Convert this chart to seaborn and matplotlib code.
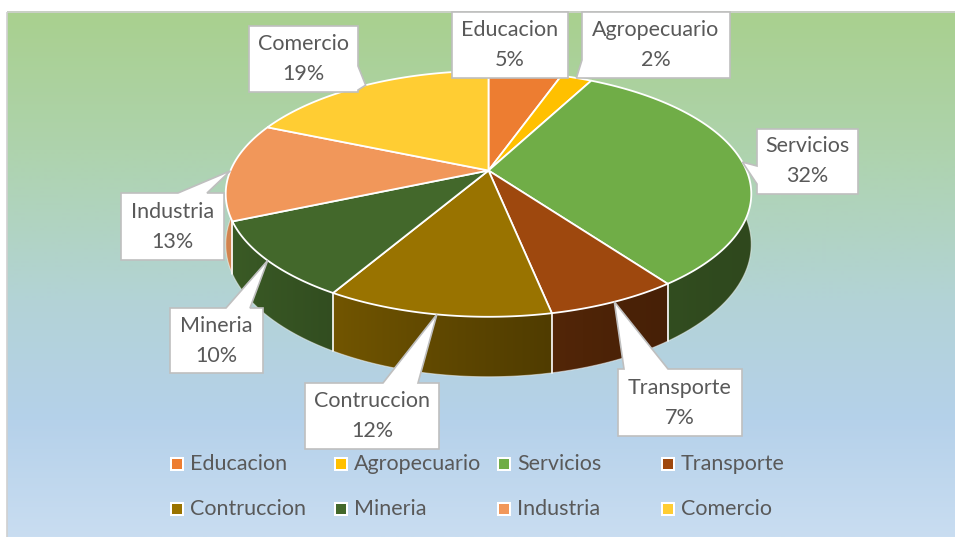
import numpy as np
import matplotlib
matplotlib.use("Agg")
import matplotlib.pyplot as plt
from matplotlib.patches import Polygon, Rectangle
from matplotlib.colors import to_rgb
import seaborn as sns

# --- chart data (shares; labels show them rounded) ---
categories = ["Educacion", "Agropecuario", "Servicios", "Transporte",
              "Contruccion", "Mineria", "Industria", "Comercio"]
shares = [5.4, 2.3, 32.3, 6.8, 11.6, 10.1, 12.9, 18.6]
slice_colors = ["#ED7D31", "#FFC000", "#70AD47", "#9E480E",
                "#997300", "#43682B", "#F1975A", "#FFCD33"]

# --- layout (pixels): label box and the side its pointer leaves from ---
label_layout = {
    "Educacion":    ((452, 12, 568, 78), None, None),
    "Agropecuario": ((582, 12, 730, 78), "left", (60, 78)),
    "Servicios":    ((757, 129, 858, 194), "left", (166, 184)),
    "Transporte":   ((618, 369, 742, 436), "top", (624, 668)),
    "Contruccion":  ((305, 383, 439, 449), "top", (383, 418)),
    "Mineria":      ((170, 308, 263, 373), "top", (226, 250)),
    "Industria":    ((121, 193, 224, 260), "top", (178, 207)),
    "Comercio":     ((249, 26, 358, 92), "right", (66, 90)),
}

W, H = 955, 537
CX, CY = 488.5, 170.5     # apex of the pie
RX, RY = 258.0, 118.5
PERSP = 0.19              # perspective strength
DEPTH = 48.6
TEXT = "#595959"
FS = 15.5

sns.set_theme(style="white")
plt.rcParams["font.family"] = ["Lato", "DejaVu Sans"]
palette = sns.color_palette(slice_colors)


def project(t_deg, drop=0.0):
    t = np.radians(t_deg)
    u, v = np.cos(t), np.sin(t)
    w = 1 + PERSP * v
    return CX + RX * u / w, CY - RY * v / w + drop / w


def shade(x):
    xn = np.clip((x - (CX - RX)) / (2 * RX), 0, 1)
    return 0.42 + 0.45 * (1 - xn) ** 1.5


fig = plt.figure(figsize=(W / 100, H / 100), dpi=100)
ax = fig.add_axes([0, 0, 1, 1])
ax.set_xlim(0, W)
ax.set_ylim(H, 0)
ax.axis("off")

# background gradient of the chart area
stops_y = [11, 150, 300, 420, 537]
stops_c = ["#a9d08e", "#aed3ad", "#b3d3d6", "#b5d1ea", "#c9ddf1"]
ys = np.arange(11, 538)
grad = np.zeros((len(ys), 1, 3))
for k in range(3):
    grad[:, 0, k] = np.interp(ys, stops_y, [to_rgb(c)[k] for c in stops_c])
ax.imshow(grad, extent=(7, W, H, 11), aspect="auto", zorder=0, interpolation="bilinear")
ax.add_patch(Rectangle((6.5, 11.5), 960, 540, fill=False, edgecolor="#d0d0d0", lw=1.2, zorder=1))

# slice angle bounds, clockwise from 12 o'clock
bounds = 90 - 360 * np.concatenate([[0], np.cumsum(shares)]) / sum(shares)

# side walls: only the front part (-192..12 deg) can be seen
xs = np.arange(int(CX - RX) - 10, int(CX + RX) + 11)
for i, col in enumerate(palette):
    a0, a1 = min(bounds[i], 12), max(bounds[i + 1], -192)
    if a0 <= a1:
        continue
    ts = np.linspace(a0, a1, 120)
    top = [project(t) for t in ts]
    bot = [project(t, DEPTH) for t in ts[::-1]]
    wall = Polygon(top + bot, closed=True, facecolor="none", edgecolor="none", zorder=2)
    ax.add_patch(wall)
    img = np.array(col)[None, None, :] * shade(xs)[None, :, None]
    im = ax.imshow(img, extent=(xs[0], xs[-1], 420, 150), aspect="auto",
                   zorder=2, interpolation="bilinear")
    im.set_clip_path(wall)

# white seams on the visible side walls
for b in bounds:
    if np.sin(np.radians(b)) < -0.05:
        p, q = project(b), project(b, DEPTH)
        ax.plot([p[0], q[0]], [p[1], q[1]], color="white", lw=1.2, zorder=3)
front = np.linspace(-180, 0, 200)
bx, by = zip(*[project(t, DEPTH) for t in front])
ax.plot(bx, by, color="white", lw=0.8, alpha=0.5, zorder=3)

# top faces
for i, col in enumerate(palette):
    ts = np.linspace(bounds[i], bounds[i + 1], max(3, int(abs(bounds[i] - bounds[i + 1]) * 2)))
    pts = [(CX, CY)] + [project(t) for t in ts]
    ax.add_patch(Polygon(pts, closed=True, facecolor=col, edgecolor="white", lw=1.3, zorder=4))

# data label callouts
total = sum(shares)
for i, name in enumerate(categories):
    (x0, y0, x1, y1), side, base = label_layout[name]
    tip = project((bounds[i] + bounds[i + 1]) / 2)
    if side == "top":
        pts = [(x0, y0), (base[0], y0), tip, (base[1], y0), (x1, y0), (x1, y1), (x0, y1)]
    elif side == "left":
        pts = [(x0, y0), (x1, y0), (x1, y1), (x0, y1), (x0, base[1]), tip, (x0, base[0])]
    elif side == "right":
        pts = [(x0, y0), (x1, y0), (x1, base[0]), tip, (x1, base[1]), (x1, y1), (x0, y1)]
    else:
        pts = [(x0, y0), (x1, y0), (x1, y1), (x0, y1)]
    ax.add_patch(Polygon(pts, closed=True, facecolor="white", edgecolor="#bfbfbf", lw=1.2, zorder=6))
    xm, ym = (x0 + x1) / 2, (y0 + y1) / 2
    pct = int(np.floor(shares[i] / total * 100 + 0.5))
    ax.text(xm, ym - 15, name, ha="center", va="center", fontsize=FS, color=TEXT, zorder=7)
    ax.text(xm, ym + 15, f"{pct}%", ha="center", va="center", fontsize=FS, color=TEXT, zorder=7)

# legend, 4 columns, row-major
for i, name in enumerate(categories):
    lx = 177 + (i % 4) * 163.5
    ly = 464 + (i // 4) * 45
    ax.scatter([lx], [ly], s=110, marker="s", color="white", zorder=6, linewidths=0)
    ax.scatter([lx], [ly], s=45, marker="s", color=palette[i], zorder=7, linewidths=0)
    ax.text(lx + 13, ly, name, ha="left", va="center", fontsize=FS, color=TEXT, zorder=7)

fig.savefig("out.png", dpi=100)
